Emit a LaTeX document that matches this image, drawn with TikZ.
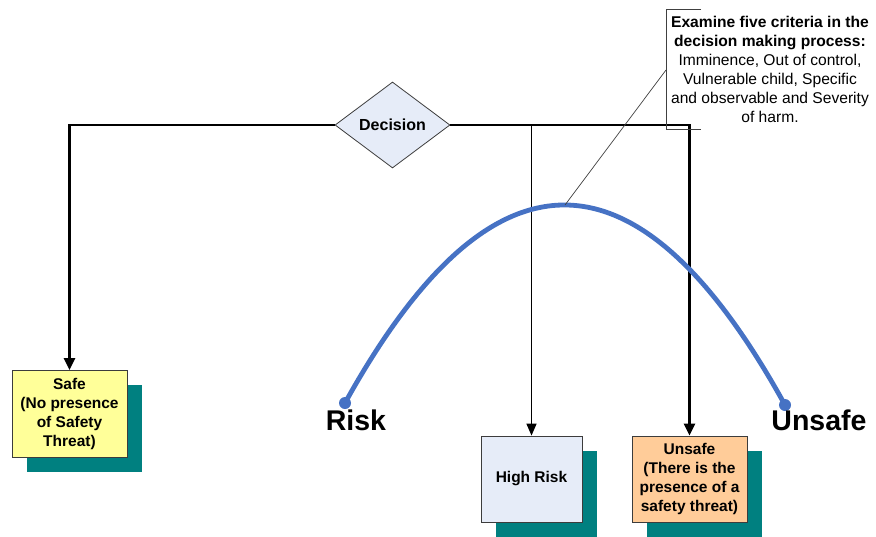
\documentclass[tikz,border=0pt]{standalone}
\usepackage{fontspec}
\setmainfont{Liberation Sans}
\usetikzlibrary{shapes.geometric,shadows,arrows.meta}
\definecolor{boxline}{RGB}{60,60,60}
\definecolor{shadowteal}{RGB}{0,128,128}
\definecolor{safeyellow}{RGB}{255,255,153}
\definecolor{lightblue}{RGB}{230,236,248}
\definecolor{unsafeorange}{RGB}{255,204,153}
\definecolor{arcblue}{RGB}{70,114,196}
\tikzset{
  blockbox/.style={rectangle, draw=boxline, line width=0.8pt, align=center,
    font=\fontsize{15.5}{19.3}\selectfont\bfseries, inner sep=0pt,
    copy shadow={shadow xshift=14.5pt, shadow yshift=-14.5pt, fill=shadowteal, draw=none}},
  flowthick/.style={line width=2.8pt, -{Triangle[length=12pt,width=11pt]}},
  flowthin/.style={line width=1.4pt, -{Triangle[length=12pt,width=10pt]}},
  bigword/.style={font=\fontsize{28.5}{32}\selectfont\bfseries},
}
\begin{document}
\begin{tikzpicture}[x=1pt,y=-1pt]
\useasboundingbox (0,0) rectangle (876,536);
% boxes
\node[blockbox, fill=safeyellow, minimum width=115pt, minimum height=87pt] (safe) at (69.5,414) {Safe\\(No presence\\of Safety\\Threat)};
\node[blockbox, fill=lightblue, minimum width=101pt, minimum height=86pt] (high) at (531.5,479) {High Risk};
\node[blockbox, fill=unsafeorange, minimum width=115pt, minimum height=86pt] (unsafe) at (689.5,479) {Unsafe\\(There is the\\presence of a\\safety threat)};
% decision
\node[diamond, draw=boxline, line width=0.8pt, fill=lightblue, minimum width=115pt, minimum height=86pt, inner sep=0pt, font=\fontsize{16}{18}\selectfont\bfseries] (dec) at (392.5,125) {Decision};
% connectors
\coordinate (hrtop) at (531.5,125);
\draw[flowthick] (dec.west) -| (safe.north);
\draw[flowthick] (dec.east) -| (unsafe.north);
\draw[flowthin] (hrtop) -- (high.north);
% arc
\coordinate (riskend) at (345,403);
\coordinate (unsafeend) at (785,405);
\coordinate (peak) at (565,205);
\draw[arcblue, line width=4.8pt] (riskend) .. controls (491.7,138.3) and (638.3,139) .. (unsafeend);
\fill[arcblue] (riskend) circle (6pt);
\fill[arcblue] (unsafeend) circle (6pt);
\node[bigword] (risk) at (356,420) {Risk};
\node[bigword] (unsafeword) at (819,420) {Unsafe};
% callout
\coordinate (bt) at (701,9);
\coordinate (bbl) at (666,129);
\coordinate (bmid) at (666,70);
\draw[line width=0.7pt, black!75] (bt) -- (666,9) -- (bbl) -- (701,129);
\draw[line width=0.7pt, black!75] (bmid) -- (peak);
\node[align=center, font=\fontsize{15.6}{19}\selectfont] (note) at (770,69)
  {\textbf{Examine five criteria in the}\\\textbf{decision making process:}\\Imminence, Out of control,\\Vulnerable child, Specific\\and observable and Severity\\of harm.};
\end{tikzpicture}
\end{document}
